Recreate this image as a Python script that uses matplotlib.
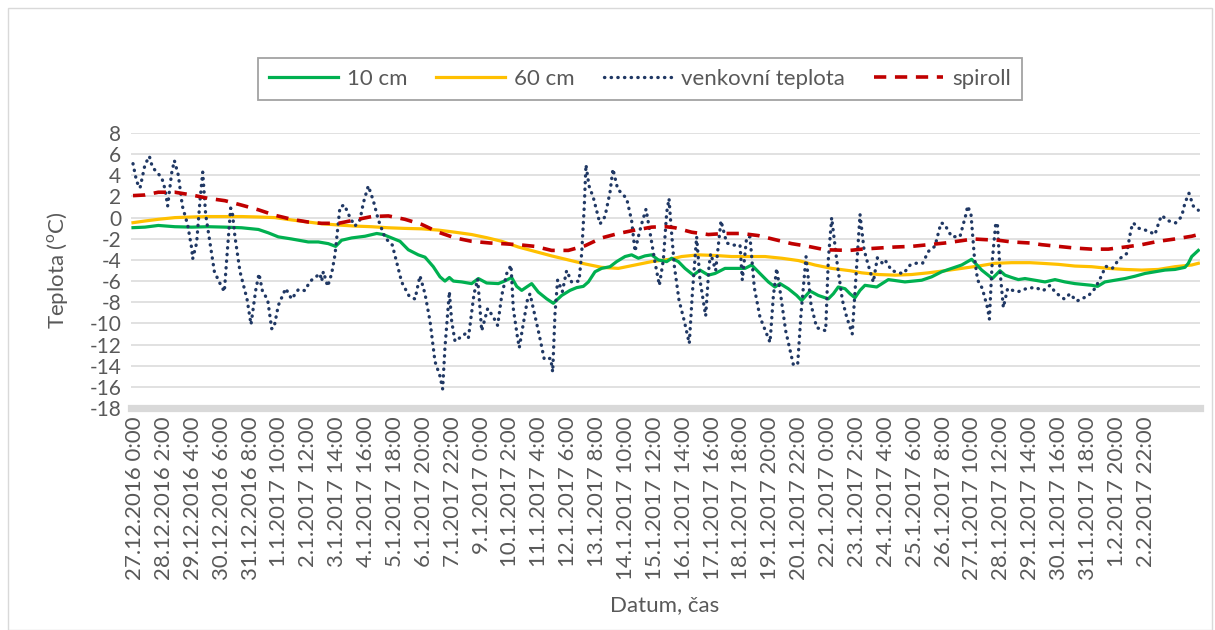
import numpy as np
import matplotlib
matplotlib.use("Agg")
import matplotlib.pyplot as plt

plt.rcParams['font.family'] = ['Lato', 'DejaVu Sans']
plt.rcParams['mathtext.fontset'] = 'custom'
plt.rcParams['mathtext.rm'] = 'Lato'
plt.rcParams['axes.unicode_minus'] = False

# x axis: time index (hours-like units from 27.12.2016 0:00), one label every ~27.5 units
labels = ['27.12.2016 0:00', '28.12.2016 2:00', '29.12.2016 4:00', '30.12.2016 6:00',
          '31.12.2016 8:00', '1.1.2017 10:00', '2.1.2017 12:00', '3.1.2017 14:00',
          '4.1.2017 16:00', '5.1.2017 18:00', '6.1.2017 20:00', '7.1.2017 22:00',
          '9.1.2017 0:00', '10.1.2017 2:00', '11.1.2017 4:00', '12.1.2017 6:00',
          '13.1.2017 8:00', '14.1.2017 10:00', '15.1.2017 12:00', '16.1.2017 14:00',
          '17.1.2017 16:00', '18.1.2017 18:00', '19.1.2017 20:00', '20.1.2017 22:00',
          '22.1.2017 0:00', '23.1.2017 2:00', '24.1.2017 4:00', '25.1.2017 6:00',
          '26.1.2017 8:00', '27.1.2017 10:00', '28.1.2017 12:00', '29.1.2017 14:00',
          '30.1.2017 16:00', '31.1.2017 18:00', '1.2.2017 20:00', '2.2.2017 22:00']
label_start = 2
label_step = 27.5

# 10 cm
h_10 = [0, 11.4, 24.1, 39.9, 55.9, 71.7, 87.6, 103.5, 119.4, 128.9, 138.4, 151.1, 166.9,
        176.5, 186, 193, 198.7, 208.3, 221, 232.1, 238.4, 246.3, 254.3, 262.2, 271.7, 278.1,
        286, 292.4, 297.1, 301.3, 305.1, 313, 322.5, 328.9, 336.8, 347.9, 354.3, 360.6,
        365.4, 370.2, 374.9, 379.7, 386, 394, 400.3, 408.3, 416.2, 422.5, 428.9, 433.7, 440,
        446.3, 454.3, 460.6, 468.6, 474.9, 481.3, 487.6, 494, 500.3, 508.3, 513, 519.4,
        525.7, 533.7, 540, 547.9, 554.3, 563.8, 573.3, 582.9, 589.2, 597.1, 605.1, 611.4,
        616.2, 624.1, 632.1, 636.8, 644.8, 652.7, 662.2, 667, 671.7, 678.1, 682.9, 687.6,
        692.4, 697.1, 708.3, 719.4, 735.2, 751.1, 760.6, 770.2, 779.7, 789.2, 798.7, 808.3,
        818.4, 825.7, 830.5, 836.8, 843.2, 849.5, 859, 868.6, 878.1, 887.6, 897.1, 913,
        918.7, 925.7, 935.2, 944.8, 954.3, 963.8, 973.3, 982.9, 992.4, 1001.9, 1005.1,
        1008.3, 1014.6]
t_10 = [-0.95, -0.9, -0.74, -0.86, -0.9, -0.86, -0.9, -0.96, -1.12, -1.44, -1.82, -2.02, -2.3,
        -2.3, -2.46, -2.72, -2.14, -1.92, -1.76, -1.5, -1.6, -1.92, -2.24, -3.04, -3.52, -3.74,
        -4.64, -5.6, -6.0, -5.66, -6.0, -6.08, -6.24, -5.76, -6.18, -6.24, -5.98, -5.66,
        -6.5, -6.88, -6.56, -6.24, -7.04, -7.68, -8.1, -7.36, -6.88, -6.62, -6.5, -6.08, -5.12,
        -4.8, -4.64, -4.16, -3.68, -3.52, -3.84, -3.62, -3.52, -4.0, -4.16, -3.84, -4.16,
        -4.8, -5.44, -4.96, -5.44, -5.28, -4.8, -4.8, -4.8, -4.48, -5.28, -6.08, -6.56,
        -6.24, -6.72, -7.36, -7.84, -6.94, -7.36, -7.68, -7.2, -6.56, -6.72, -7.2, -7.58,
        -6.88, -6.4, -6.56, -5.86, -6.08, -5.92, -5.6, -5.12, -4.8, -4.48, -3.94, -4.96,
        -5.76, -5.02, -5.44, -5.66, -5.86, -5.76, -5.92, -6.08, -5.86, -6.08, -6.24, -6.4,
        -6.5, -6.08, -5.92, -5.76, -5.54, -5.28, -5.12, -4.96, -4.9, -4.7, -4.32,
        -3.68, -3.1]

# 60 cm
h_60 = [0, 11.4, 24.1, 39.9, 55.9, 71.7, 87.6, 103.5, 119.4, 135.2, 151.1, 163.8, 179.7,
        195.6, 211.4, 227.3, 243.2, 259, 274.9, 290.8, 306.7, 322.5, 337, 351.1, 367, 382.9,
        398.7, 414.6, 430.5, 446.3, 462.2, 478.1, 494, 511.4, 522.5, 538.4, 554.3, 570.2,
        586, 601.9, 617.8, 633.7, 649.5, 665.4, 682.9, 694, 709.8, 725.7, 741.6, 757.5,
        773.3, 789.2, 805.1, 821, 836.8, 854.3, 865.4, 881.3, 897.1, 913, 928.9, 944.8,
        960.6, 976.5, 992.4, 1008.3, 1014.6]
t_60 = [-0.48, -0.32, -0.16, 0, 0.06, 0.1, 0.1, 0.1, 0.06, 0, -0.22, -0.38, -0.58,
        -0.7, -0.8, -0.86, -0.96, -1.02, -1.06, -1.18, -1.38, -1.6, -1.9, -2.24, -2.78, -3.2,
        -3.62, -4.0, -4.38, -4.7, -4.8, -4.48, -4.16, -3.94, -3.68, -3.52, -3.58, -3.68,
        -3.68, -3.68, -3.84, -4.06, -4.48, -4.8, -5.02, -5.22, -5.38, -5.44, -5.38, -5.22,
        -5.02, -4.8, -4.58, -4.32, -4.26, -4.26, -4.32, -4.42, -4.58, -4.64, -4.8, -4.9,
        -4.96, -4.9, -4.64, -4.48, -4.32]

# venkovni teplota
h_out = [0, 3.5, 6.7, 11.4, 15.6, 18.4, 22.5, 27.3, 30.5, 33, 36.8, 39.4, 43.2, 47, 52.1,
         55.9, 56.8, 60.6, 63.8, 66.4, 69.2, 73.3, 77.5, 82.2, 87, 89.2, 93, 94.6, 97.1,
         101.9, 108.6, 112.4, 116.8, 120, 123.2, 128.3, 132.1, 134.3, 138.4, 145.4, 151.1,
         157.5, 163.8, 167.6, 170.2, 178.1, 179.7, 181.3, 185.4, 189.2, 192.4, 195.6, 197.1,
         201.3, 206.7, 211.4, 216.2, 219.4, 224.1, 228.9, 233.6, 240, 247, 251.1, 255.9,
         262.9, 268.6, 273.3, 278.1, 282.9, 287.6, 292.4, 294.9, 297.1, 301.3, 303.5, 306.7,
         316.2, 319.4, 324.8, 328.3, 332.1, 337.8, 343.2, 347.3, 351.1, 355.9, 360, 362.2,
         366, 367.9, 371.1, 375.6, 378.1, 382.2, 386.7, 391.7, 397.8, 399.7, 401.9, 404.4,
         408.9, 413, 417.8, 424.8, 427.3, 429.8, 431.4, 434.3, 438.4, 444.8, 449.5, 454.3,
         457.1, 461.6, 470.2, 474.9, 478.1, 481.3, 484.4, 488.6, 492.4, 497.1, 501.3, 505.1,
         508.3, 510.5, 512.4, 515.6, 520, 525.1, 529.8, 532.7, 536.8, 540, 545.4, 548.6,
         550.2, 554.9, 560, 565.4, 571.7, 578.1, 580.3, 584.4, 587.6, 591.7, 597.1, 603.5,
         606.7, 609.8, 613, 617.1, 621.6, 628.9, 633, 636.2, 641, 645.7, 651.1, 659.7,
         662.2, 665.4, 670.2, 675.6, 679.7, 685, 689.2, 692.4, 696.2, 699.7, 705.1, 708.9,
         713.6, 716.2, 722.5, 728.9, 733.7, 740, 746.4, 752.1, 757.5, 763.8, 769.5, 772.7,
         779.7, 787.6, 793, 794.9, 798.1, 801.3, 804.4, 808.9, 814, 815.6, 818.4, 821.6,
         823.2, 825.7, 828.9, 833, 838.4, 843.2, 851.1, 859, 867, 873.3, 878.7, 887, 892.4,
         898.7, 905.1, 909.8, 916.2, 921.9, 926.4, 932.7, 939.4, 946.4, 950.5, 952.7, 957.5,
         962.2, 969.5, 973.3, 977.5, 979.7, 986, 993, 998.7, 1001.9, 1005.7, 1009.8, 1014.6]
t_out = [5.1, 3.4, 2.8, 5.0, 5.8, 4.8, 4.3, 3.8, 2.7, 1.1, 4.2, 5.4, 4.0, 1.1, -0.7,
         -2.9, -3.9, -2.4, 1.6, 4.3, 0.3, -2.4, -5.1, -6.1, -7.0, -4.0, 0.9, 0.5, -1.8,
         -5.1, -7.7, -10.1, -6.9, -5.3, -6.9, -7.8, -10.5, -10.4, -8.3, -6.7, -7.7,
         -6.8, -6.9, -6.2, -5.9, -5.3, -6.0, -5.1, -6.5, -5.3, -3.5, -0.5, 1.0,
         1.2, 0, -0.8, -0.2, 1.4, 3.0, 1.6, -0.2, -1.9, -2.6, -4.2, -6.1,
         -7.4, -7.7, -5.5, -7.2, -9.8, -13.6, -15.0, -16.2, -12.3, -7.0, -9.8, -11.7,
         -11.0, -11.4, -7.2, -5.8, -10.7, -8.6, -9.4, -10.2, -7.4, -5.3, -4.5, -8.6,
         -11.2, -12.3, -10.4, -7.8, -7.2, -9.0, -11.0, -13.4, -13.3, -14.6, -9.1, -5.9,
         -7.0, -5.0, -6.1, -6.0, -3.4, 1.1, 5.0, 3.0, 1.9, -0.6, 0.1, 2.4,
         4.6, 2.7, 1.8, -0.3, -3.2, -1.8, -0.6, 0.8, -1.4, -4.2, -6.4, -4.0,
         0.5, 1.8, -0.8, -4.6, -7.8, -9.8, -11.9, -7.2, -1.8, -5.9, -9.3, -4.6,
         -3.4, -5.0, -0.3, -2.4, -2.6, -2.6, -5.9, -1.9, -1.8, -6.6, -9.4, -11.0,
         -11.8, -7.5, -4.8, -7.5, -10.7, -13.9, -13.9, -9.1, -3.7, -8.2, -10.4, -10.7,
         -4.0, 0.0, -4.0, -7.8, -9.4, -11.0, -4.6, 0.3, -3.0, -4.3, -6.1, -3.8,
         -4.3, -4.0, -5.0, -5.2, -5.3, -4.5, -4.3, -4.3, -3.2, -2.7, -0.5, -0.6,
         -1.8, -1.8, 0.2, 1.1, 0.3, -3.7, -5.9, -6.7, -8.6, -9.6, -4.0, -0.6,
         -0.5, -5.0, -8.5, -6.7, -6.9, -7.0, -6.7, -6.6, -6.9, -6.4, -7.1, -7.7, -7.2,
         -7.9, -7.6, -7.4, -6.7, -5.6, -4.6, -4.8, -3.9, -3.4, -1.1, -0.5, -1.0,
         -1.1, -1.4, -1.6, -0.3, 0.2, -0.3, -0.5, 0.1, 1.4, 2.3, 1.1, 0.7]

# spiroll
h_sp = [0, 11.4, 24.1, 39.9, 55.9, 71.7, 87.6, 103.5, 119.4, 135.2, 151.1, 167, 179.7,
        195.6, 211.4, 227.3, 243.2, 259, 274.9, 290.8, 306.7, 322.5, 340, 351.1, 367, 382.9,
        398.7, 414.6, 430.5, 446.3, 462.2, 478.1, 494, 506.7, 516.2, 532.1, 548, 563.8,
        579.7, 595.6, 611.4, 627.3, 643.2, 659, 682.9, 694, 709.8, 725.7, 741.6, 757.5,
        773.3, 789.2, 800.3, 811.4, 824.1, 836.8, 854.3, 865.4, 881.3, 897.1, 913, 928.9,
        944.8, 960.6, 976.5, 992.4, 1008.3, 1014.6]
t_sp = [2.08, 2.14, 2.4, 2.4, 2.14, 1.82, 1.6, 1.18, 0.74, 0.22, -0.16, -0.42, -0.54,
        -0.54, -0.22, 0.1, 0.16, -0.16, -0.64, -1.38, -1.92, -2.24, -2.4, -2.46, -2.56, -2.72,
        -3.1, -3.1, -2.66, -1.92, -1.5, -1.18, -0.9, -0.85, -0.96, -1.38, -1.6, -1.5,
        -1.5, -1.7, -2.08, -2.46, -2.72, -3.04, -3.1, -2.98, -2.88, -2.78, -2.72, -2.56,
        -2.4, -2.18, -2.02, -2.08, -2.14, -2.3, -2.4, -2.56, -2.72, -2.88, -2.98, -2.98,
        -2.78, -2.56, -2.24, -2.02, -1.76, -1.6]

text_c = '#595959'
grid_c = '#d9d9d9'

fig = plt.figure(figsize=(12.15, 6.3), dpi=100)
ax = fig.add_axes([131 / 1215, 1 - 408 / 630, 1069 / 1215, 275 / 630])

for y in range(-16, 9, 2):
    ax.axhline(y, color=grid_c, lw=1.1, zorder=0)
ax.axhline(-18, color=grid_c, lw=5.2, zorder=0, clip_on=False)

ax.plot(h_10, t_10, color='#00b050', lw=2.3, label='10 cm', zorder=3)
ax.plot(h_60, t_60, color='#ffc000', lw=2.3, label='60 cm', zorder=2)
ax.plot(h_out, t_out, color='#203864', lw=2.4, linestyle=(0, (0.1, 1.9)),
        dash_capstyle='round', label='venkovní teplota', zorder=4)
ax.plot(h_sp, t_sp, color='#c00000', lw=2.6, linestyle=(0, (3.4, 2.4)),
        label='spiroll', zorder=5)

ax.set_ylim(-18, 8)
ax.set_yticks(range(-18, 9, 2))
ax.set_xlim(-1.9, 1016.2)
ax.set_xticks(label_start + np.arange(len(labels)) * label_step)
ax.set_xticklabels(labels, rotation=90)
ax.tick_params(axis='both', length=0, labelsize=15, colors=text_c)
ax.tick_params(axis='x', pad=6, labelsize=16)
ax.tick_params(axis='y', pad=7)
for s in ax.spines.values():
    s.set_visible(False)

fig.text(58 / 1215, 1 - 270 / 630, 'Teplota ($^{\\mathrm{o}}$C)', rotation=90,
         ha='center', va='center', fontsize=16, color=text_c)
fig.text(665 / 1215, 1 - 605 / 630, 'Datum, čas', ha='center', va='center',
         fontsize=16, color=text_c)

leg = fig.legend(loc='center', bbox_to_anchor=(640 / 1215, 1 - 79 / 630), ncol=4,
                 fontsize=16, frameon=True, fancybox=False, edgecolor='#8c8c8c',
                 handlelength=3.1, columnspacing=1.3, handletextpad=0.4,
                 borderpad=0.5)
leg.get_frame().set_linewidth(1.3)
for t in leg.get_texts():
    t.set_color(text_c)

fig.patches.append(plt.Rectangle((8 / 1215, 0), 1204 / 1215, 1 - 8 / 630,
                                 transform=fig.transFigure, fill=False,
                                 edgecolor=grid_c, lw=1))

fig.savefig('out.png', dpi=100)
